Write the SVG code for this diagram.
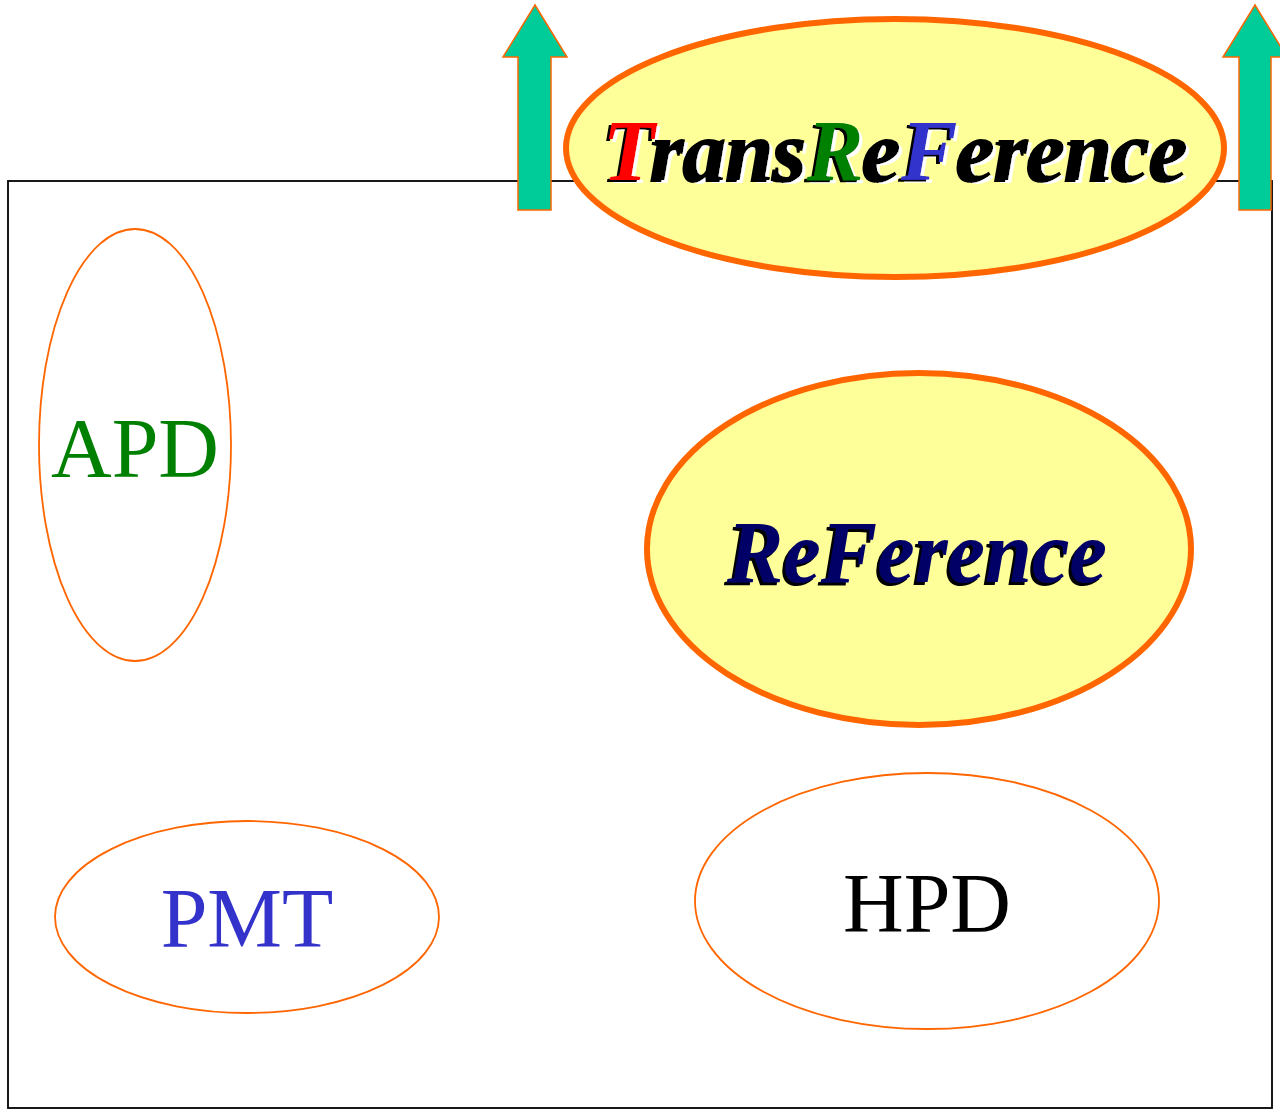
<svg xmlns="http://www.w3.org/2000/svg" width="1280" height="1110" viewBox="0 0 1280 1110">
<style>
.thin{fill:none;stroke:#FF6600;stroke-width:1.8}
.big{fill:#FFFF99;stroke:#FF6600;stroke-width:6}
.arrow{fill:#00CC99;stroke:#FF6600;stroke-width:1.5}
.lbl{font-family:"Liberation Serif","Times New Roman",serif;font-size:84px;text-anchor:middle}
.bi{font-family:"Liberation Serif","Times New Roman",serif;font-weight:bold;font-style:italic}
</style>
<defs>
<filter id="shTrans" x="-5%" y="-20%" width="110%" height="140%">
<feFlood flood-color="#fff"/><feComposite in2="SourceAlpha" operator="in"/><feOffset dx="3" dy="3" result="w"/>
<feFlood flood-color="#000"/><feComposite in2="SourceAlpha" operator="in"/><feOffset dx="-3" dy="2" result="b"/>
<feMerge><feMergeNode in="w"/><feMergeNode in="b"/><feMergeNode in="SourceGraphic"/></feMerge>
</filter>
<filter id="shRef" x="-5%" y="-20%" width="110%" height="140%">
<feFlood flood-color="#000"/><feComposite in2="SourceAlpha" operator="in"/><feOffset dx="-3" dy="3" result="b"/>
<feMerge><feMergeNode in="b"/><feMergeNode in="SourceGraphic"/></feMerge>
</filter>
</defs>
<rect width="1280" height="1110" fill="#fff"/>
<rect id="frame" x="8" y="181" width="1264" height="927" fill="none" stroke="#000" stroke-width="1.8"/>
<g id="connectors">
<path class="arrow" d="M518,210 L518,57 L503,57 L535,5 L567,57 L551,57 L551,210 Z"/>
<path class="arrow" d="M1239,210 L1239,57 L1223,57 L1255,5 L1287,57 L1271,57 L1271,210 Z"/>
</g>
<g id="apd"><ellipse class="thin" cx="135" cy="445" rx="96" ry="216"/><text class="lbl" x="135" y="477" fill="#008000">APD</text></g>
<g id="pmt"><ellipse class="thin" cx="247" cy="917" rx="192" ry="96"/><text class="lbl" x="247" y="947" fill="#3333CC">PMT</text></g>
<g id="hpd"><ellipse class="thin" cx="927" cy="901" rx="232" ry="128"/><text class="lbl" x="927" y="932" fill="#000">HPD</text></g>
<g id="reference"><ellipse class="big" cx="919" cy="549" rx="272" ry="176"/>
<text class="bi" x="727" y="582" font-size="88" textLength="380" lengthAdjust="spacingAndGlyphs" fill="#000066" filter="url(#shRef)">ReFerence</text>
</g>
<g id="transreference"><ellipse class="big" cx="895" cy="148" rx="329" ry="129"/>
<text class="bi" x="603" y="180" font-size="86" textLength="585" lengthAdjust="spacingAndGlyphs" fill="#000" filter="url(#shTrans)"><tspan fill="#FF0000">T</tspan>rans<tspan fill="#008000">R</tspan>e<tspan fill="#3333CC">F</tspan>erence</text>
</g>
</svg>
